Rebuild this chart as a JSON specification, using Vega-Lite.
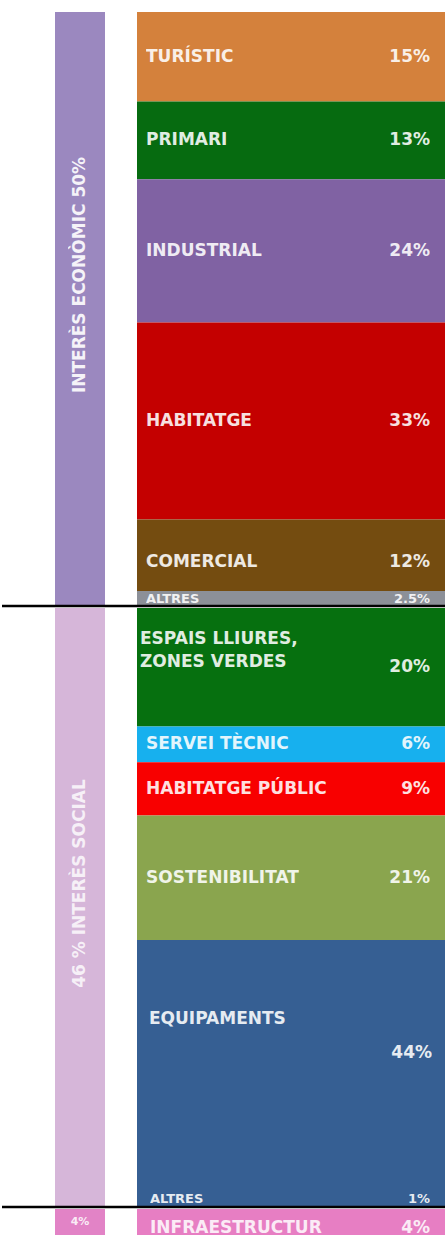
{
  "$schema": "https://vega.github.io/schema/vega-lite/v6.json",
  "background": "white",
  "padding": {"top": 12, "bottom": 0, "left": 0, "right": 0},
  "bounds": "flush",
  "spacing": 2,
  "config": {"view": {"stroke": null}, "text": {"font": "DejaVu Sans", "fontWeight": "bold", "fill": "white", "baseline": "middle"}},
  "data": {"values": [
    {"col": "L", "grp": "E", "id": "gE", "name": "INTERÈS ECONÒMIC 50%", "lbl": "50%", "pct": 50, "i": 0},
    {"col": "L", "grp": "S", "id": "gS", "name": "46 % INTERÈS SOCIAL", "lbl": "46%", "pct": 46, "i": 0},
    {"col": "L", "grp": "I", "id": "gI", "name": "4%", "lbl": "4%", "pct": 4, "i": 0},
    {"col": "R", "grp": "E", "id": "tur", "name": "TURÍSTIC", "lbl": "15%", "pct": 15, "i": 1},
    {"col": "R", "grp": "E", "id": "pri", "name": "PRIMARI", "lbl": "13%", "pct": 13, "i": 2},
    {"col": "R", "grp": "E", "id": "ind", "name": "INDUSTRIAL", "lbl": "24%", "pct": 24, "i": 3},
    {"col": "R", "grp": "E", "id": "hab", "name": "HABITATGE", "lbl": "33%", "pct": 33, "i": 4},
    {"col": "R", "grp": "E", "id": "com", "name": "COMERCIAL", "lbl": "12%", "pct": 12, "i": 5},
    {"col": "R", "grp": "E", "id": "alE", "name": "ALTRES", "lbl": "2.5%", "pct": 2.5, "i": 6},
    {"col": "R", "grp": "S", "id": "esp", "name": "ESPAIS LLIURES,\nZONES VERDES", "lbl": "20%", "pct": 20, "i": 1},
    {"col": "R", "grp": "S", "id": "ser", "name": "SERVEI TÈCNIC", "lbl": "6%", "pct": 6, "i": 2},
    {"col": "R", "grp": "S", "id": "hpu", "name": "HABITATGE PÚBLIC", "lbl": "9%", "pct": 9, "i": 3},
    {"col": "R", "grp": "S", "id": "sos", "name": "SOSTENIBILITAT", "lbl": "21%", "pct": 21, "i": 4},
    {"col": "R", "grp": "S", "id": "equ", "name": "EQUIPAMENTS", "lbl": "44%", "pct": 44, "i": 5},
    {"col": "R", "grp": "S", "id": "alS", "name": "ALTRES", "lbl": "1%", "pct": 1, "i": 6},
    {"col": "R", "grp": "I", "id": "inf", "name": "INFRAESTRUCTUR", "lbl": "4%", "pct": 4, "i": 1}
  ]},
  "vconcat": [
    {
      "width": 445, "height": 594,
      "transform": [{"filter": "datum.grp === 'E'"}],
      "layer": [
        {
          "mark": {"type": "bar", "width": 50},
          "transform": [{"filter": "datum.col === 'L'"}],
          "encoding": {
            "x": {"field": "col", "type": "nominal", "scale": {"type": "point", "domain": ["L", "R"], "range": [78, 289], "padding": 0}, "axis": null},
            "y": {"field": "pct", "type": "quantitative", "stack": "normalize", "scale": {"reverse": true, "domain": [0, 1], "nice": false}, "axis": null},
            "order": {"field": "i", "type": "quantitative"},
            "color": {"field": "id", "type": "nominal", "legend": null, "scale": {"domain": ["gE", "gS", "gI", "tur", "pri", "ind", "hab", "com", "alE", "esp", "ser", "hpu", "sos", "equ", "alS", "inf"], "range": ["#9B88BF", "#D6B6D9", "#E283C6", "#D4813C", "#066B10", "#8062A3", "#C40000", "#744C10", "#8C9098", "#06700F", "#17B0EE", "#F80000", "#8AA54E", "#365F93", "#365F93", "#E77EC3"]}}
          }
        },
        {
          "mark": {"type": "bar", "width": 308},
          "transform": [{"filter": "datum.col === 'R'"}],
          "encoding": {
            "x": {"field": "col", "type": "nominal", "scale": {"type": "point", "domain": ["L", "R"], "range": [78, 289], "padding": 0}, "axis": null},
            "y": {"field": "pct", "type": "quantitative", "stack": "normalize", "scale": {"reverse": true, "domain": [0, 1], "nice": false}, "axis": null},
            "order": {"field": "i", "type": "quantitative"},
            "color": {"field": "id", "type": "nominal", "legend": null}
          }
        },
        {
          "mark": {"type": "text", "align": "center", "angle": 270, "dx": 34, "fontSize": 17, "opacity": 0.9},
          "transform": [{"filter": "datum.col === 'L'"}],
          "encoding": {
            "x": {"field": "col", "type": "nominal", "axis": null},
            "y": {"field": "pct", "type": "quantitative", "stack": "normalize", "bandPosition": 0.5, "axis": null},
            "order": {"field": "i", "type": "quantitative"},
            "detail": {"field": "id"},
            "text": {"field": "name"}
          }
        },
        {
          "mark": {"type": "text", "align": "left", "dx": -145, "opacity": 0.88},
          "transform": [{"filter": "datum.col === 'R'"}],
          "encoding": {
            "x": {"field": "col", "type": "nominal", "axis": null},
            "y": {"field": "pct", "type": "quantitative", "stack": "normalize", "bandPosition": 0.5, "axis": null},
            "order": {"field": "i", "type": "quantitative"},
            "detail": {"field": "id"},
            "size": {"condition": {"test": "datum.pct < 3", "value": 13}, "value": 17},
            "text": {"condition": {"test": "datum.id === 'com'", "value": ""}, "field": "name"}
          }
        },
        {
          "mark": {"type": "text", "align": "right", "dx": 139, "opacity": 0.88},
          "transform": [{"filter": "datum.col === 'R'"}],
          "encoding": {
            "x": {"field": "col", "type": "nominal", "axis": null},
            "y": {"field": "pct", "type": "quantitative", "stack": "normalize", "bandPosition": 0.5, "axis": null},
            "order": {"field": "i", "type": "quantitative"},
            "detail": {"field": "id"},
            "size": {"condition": {"test": "datum.pct < 3", "value": 13}, "value": 17},
            "text": {"condition": {"test": "datum.id === 'com'", "value": ""}, "field": "lbl"}
          }
        },
        {
          "mark": {"type": "text", "align": "left", "dx": -145, "dy": 7, "fontSize": 17, "opacity": 0.88},
          "transform": [{"filter": "datum.col === 'R'"}],
          "encoding": {
            "x": {"field": "col", "type": "nominal", "axis": null},
            "y": {"field": "pct", "type": "quantitative", "stack": "normalize", "bandPosition": 0.5, "axis": null},
            "order": {"field": "i", "type": "quantitative"},
            "detail": {"field": "id"},
            "text": {"condition": {"test": "datum.id === 'com'", "field": "name"}, "value": ""}
          }
        },
        {
          "mark": {"type": "text", "align": "right", "dx": 139, "dy": 7, "fontSize": 17, "opacity": 0.88},
          "transform": [{"filter": "datum.col === 'R'"}],
          "encoding": {
            "x": {"field": "col", "type": "nominal", "axis": null},
            "y": {"field": "pct", "type": "quantitative", "stack": "normalize", "bandPosition": 0.5, "axis": null},
            "order": {"field": "i", "type": "quantitative"},
            "detail": {"field": "id"},
            "text": {"condition": {"test": "datum.id === 'com'", "field": "lbl"}, "value": ""}
          }
        },
        {
          "mark": {"type": "rule", "color": "black", "strokeWidth": 2.5},
          "transform": [{"filter": "datum.col === 'L'"}],
          "encoding": {
            "y": {"datum": 1, "type": "quantitative"}
          }
        }
      ]
    },
    {
      "width": 445, "height": 599,
      "transform": [{"filter": "datum.grp === 'S'"}],
      "layer": [
        {
          "mark": {"type": "bar", "width": 50},
          "transform": [{"filter": "datum.col === 'L'"}],
          "encoding": {
            "x": {"field": "col", "type": "nominal", "scale": {"type": "point", "domain": ["L", "R"], "range": [78, 289], "padding": 0}, "axis": null},
            "y": {"field": "pct", "type": "quantitative", "stack": "normalize", "scale": {"reverse": true, "domain": [0, 1], "nice": false}, "axis": null},
            "order": {"field": "i", "type": "quantitative"},
            "color": {"field": "id", "type": "nominal", "legend": null}
          }
        },
        {
          "mark": {"type": "bar", "width": 308},
          "transform": [{"filter": "datum.col === 'R'"}],
          "encoding": {
            "x": {"field": "col", "type": "nominal", "scale": {"type": "point", "domain": ["L", "R"], "range": [78, 289], "padding": 0}, "axis": null},
            "y": {"field": "pct", "type": "quantitative", "stack": "normalize", "scale": {"reverse": true, "domain": [0, 1], "nice": false}, "axis": null},
            "order": {"field": "i", "type": "quantitative"},
            "color": {"field": "id", "type": "nominal", "legend": null}
          }
        },
        {
          "mark": {"type": "text", "align": "center", "angle": 270, "dx": 24, "fontSize": 17, "opacity": 0.8},
          "transform": [{"filter": "datum.col === 'L'"}],
          "encoding": {
            "x": {"field": "col", "type": "nominal", "axis": null},
            "y": {"field": "pct", "type": "quantitative", "stack": "normalize", "bandPosition": 0.5, "axis": null},
            "order": {"field": "i", "type": "quantitative"},
            "detail": {"field": "id"},
            "text": {"field": "name"}
          }
        },
        {
          "mark": {"type": "text", "align": "left", "dx": -145, "fontSize": 17, "opacity": 0.88},
          "transform": [{"filter": "datum.col === 'R'"}],
          "encoding": {
            "x": {"field": "col", "type": "nominal", "axis": null},
            "y": {"field": "pct", "type": "quantitative", "stack": "normalize", "bandPosition": 0.5, "axis": null},
            "order": {"field": "i", "type": "quantitative"},
            "detail": {"field": "id"},
            "text": {"condition": {"test": "indexof(['esp','equ','alS'], datum.id) >= 0", "value": ""}, "field": "name"}
          }
        },
        {
          "mark": {"type": "text", "align": "right", "dx": 139, "fontSize": 17, "opacity": 0.88},
          "transform": [{"filter": "datum.col === 'R'"}],
          "encoding": {
            "x": {"field": "col", "type": "nominal", "axis": null},
            "y": {"field": "pct", "type": "quantitative", "stack": "normalize", "bandPosition": 0.5, "axis": null},
            "order": {"field": "i", "type": "quantitative"},
            "detail": {"field": "id"},
            "text": {"condition": {"test": "indexof(['equ','alS'], datum.id) >= 0", "value": ""}, "field": "lbl"}
          }
        },
        {
          "mark": {"type": "text", "align": "left", "dx": -151, "dy": -28, "fontSize": 17, "opacity": 0.88, "lineBreak": "\n", "lineHeight": 23},
          "transform": [{"filter": "datum.col === 'R'"}],
          "encoding": {
            "x": {"field": "col", "type": "nominal", "axis": null},
            "y": {"field": "pct", "type": "quantitative", "stack": "normalize", "bandPosition": 0.5, "axis": null},
            "order": {"field": "i", "type": "quantitative"},
            "detail": {"field": "id"},
            "text": {"condition": {"test": "datum.id === 'esp'", "field": "name"}, "value": ""}
          }
        },
        {
          "mark": {"type": "text", "align": "left", "dx": -142, "dy": -52, "fontSize": 17, "opacity": 0.88},
          "transform": [{"filter": "datum.col === 'R'"}],
          "encoding": {
            "x": {"field": "col", "type": "nominal", "axis": null},
            "y": {"field": "pct", "type": "quantitative", "stack": "normalize", "bandPosition": 0.5, "axis": null},
            "order": {"field": "i", "type": "quantitative"},
            "detail": {"field": "id"},
            "text": {"condition": {"test": "datum.id === 'equ'", "field": "name"}, "value": ""}
          }
        },
        {
          "mark": {"type": "text", "align": "right", "dx": 141, "dy": -18, "fontSize": 17, "opacity": 0.88},
          "transform": [{"filter": "datum.col === 'R'"}],
          "encoding": {
            "x": {"field": "col", "type": "nominal", "axis": null},
            "y": {"field": "pct", "type": "quantitative", "stack": "normalize", "bandPosition": 0.5, "axis": null},
            "order": {"field": "i", "type": "quantitative"},
            "detail": {"field": "id"},
            "text": {"condition": {"test": "datum.id === 'equ'", "field": "lbl"}, "value": ""}
          }
        },
        {
          "mark": {"type": "text", "align": "left", "dx": -141, "dy": -5, "fontSize": 13, "opacity": 0.88},
          "transform": [{"filter": "datum.col === 'R'"}],
          "encoding": {
            "x": {"field": "col", "type": "nominal", "axis": null},
            "y": {"field": "pct", "type": "quantitative", "stack": "normalize", "bandPosition": 0.5, "axis": null},
            "order": {"field": "i", "type": "quantitative"},
            "detail": {"field": "id"},
            "text": {"condition": {"test": "datum.id === 'alS'", "field": "name"}, "value": ""}
          }
        },
        {
          "mark": {"type": "text", "align": "right", "dx": 139, "dy": -5, "fontSize": 13, "opacity": 0.88},
          "transform": [{"filter": "datum.col === 'R'"}],
          "encoding": {
            "x": {"field": "col", "type": "nominal", "axis": null},
            "y": {"field": "pct", "type": "quantitative", "stack": "normalize", "bandPosition": 0.5, "axis": null},
            "order": {"field": "i", "type": "quantitative"},
            "detail": {"field": "id"},
            "text": {"condition": {"test": "datum.id === 'alS'", "field": "lbl"}, "value": ""}
          }
        },
        {
          "mark": {"type": "rule", "color": "black", "strokeWidth": 2.5},
          "transform": [{"filter": "datum.col === 'L'"}],
          "encoding": {
            "y": {"datum": 1, "type": "quantitative"}
          }
        }
      ]
    },
    {
      "width": 445, "height": 26,
      "transform": [{"filter": "datum.grp === 'I'"}],
      "layer": [
        {
          "mark": {"type": "bar", "width": 50, "clip": true},
          "transform": [{"filter": "datum.col === 'L'"}],
          "encoding": {
            "x": {"field": "col", "type": "nominal", "scale": {"type": "point", "domain": ["L", "R"], "range": [78, 289], "padding": 0}, "axis": null},
            "y": {"field": "pct", "type": "quantitative", "stack": "normalize", "scale": {"reverse": true, "domain": [0, 0.55], "nice": false}, "axis": null},
            "order": {"field": "i", "type": "quantitative"},
            "color": {"field": "id", "type": "nominal", "legend": null}
          }
        },
        {
          "mark": {"type": "bar", "width": 308, "clip": true},
          "transform": [{"filter": "datum.col === 'R'"}],
          "encoding": {
            "x": {"field": "col", "type": "nominal", "scale": {"type": "point", "domain": ["L", "R"], "range": [78, 289], "padding": 0}, "axis": null},
            "y": {"field": "pct", "type": "quantitative", "stack": "normalize", "scale": {"reverse": true, "domain": [0, 0.55], "nice": false}, "axis": null},
            "order": {"field": "i", "type": "quantitative"},
            "color": {"field": "id", "type": "nominal", "legend": null}
          }
        },
        {
          "mark": {"type": "text", "align": "center", "dy": -11, "fontSize": 11, "opacity": 0.85, "clip": true},
          "transform": [{"filter": "datum.col === 'L'"}],
          "encoding": {
            "x": {"field": "col", "type": "nominal", "axis": null},
            "y": {"field": "pct", "type": "quantitative", "stack": "normalize", "bandPosition": 0.5, "axis": null},
            "order": {"field": "i", "type": "quantitative"},
            "detail": {"field": "id"},
            "text": {"field": "name"}
          }
        },
        {
          "mark": {"type": "text", "align": "left", "dx": -141, "dy": -5, "fontSize": 17, "opacity": 0.85, "clip": true},
          "transform": [{"filter": "datum.col === 'R'"}],
          "encoding": {
            "x": {"field": "col", "type": "nominal", "axis": null},
            "y": {"field": "pct", "type": "quantitative", "stack": "normalize", "bandPosition": 0.5, "axis": null},
            "order": {"field": "i", "type": "quantitative"},
            "detail": {"field": "id"},
            "text": {"field": "name"}
          }
        },
        {
          "mark": {"type": "text", "align": "right", "dx": 139, "dy": -5, "fontSize": 17, "opacity": 0.85, "clip": true},
          "transform": [{"filter": "datum.col === 'R'"}],
          "encoding": {
            "x": {"field": "col", "type": "nominal", "axis": null},
            "y": {"field": "pct", "type": "quantitative", "stack": "normalize", "bandPosition": 0.5, "axis": null},
            "order": {"field": "i", "type": "quantitative"},
            "detail": {"field": "id"},
            "text": {"field": "lbl"}
          }
        }
      ]
    }
  ]
}
